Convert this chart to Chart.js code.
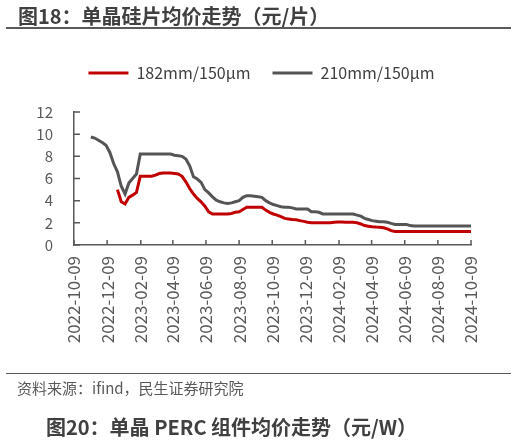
<!DOCTYPE html>
<html>
<head>
<meta charset="utf-8">
<script src="https://cdn.jsdelivr.net/npm/chart.js@4.4.1/dist/chart.umd.min.js"></script>
<style>
  html, body { margin: 0; padding: 0; background: #fff; }
  body { width: 516px; height: 441px; position: relative; overflow: hidden; font-family: "Noto Sans CJK SC", sans-serif; }
  #priceChart { position: absolute; left: 0; top: 0; }
  .title { position: absolute; font-weight: bold; font-size: 20px; line-height: 20px; color: #404040; white-space: nowrap; }
  .rule { position: absolute; left: 6px; width: 505px; background: #595959; }
  .source { position: absolute; left: 17px; top: 380px; font-size: 15px; line-height: 16px; color: #595959; white-space: nowrap; }
</style>
</head>
<body>
<canvas id="priceChart" width="516" height="441"></canvas>
<div class="title" style="left:18px; top:6px;">图18：单晶硅片均价走势（元/片）</div>
<div class="rule" style="top:27px; height:2px;"></div>
<div class="rule" style="top:372.5px; height:1.5px;"></div>
<div class="source">资料来源：ifind，民生证券研究院</div>
<div class="title" style="left:46px; top:417px;">图20：单晶 PERC 组件均价走势（元/W）</div>
<script>
// weekly quotes
const dates = [
  '2022-11-09','2022-11-16','2022-11-23','2022-11-30','2022-12-07','2022-12-14','2022-12-21','2022-12-28',
  '2023-01-04','2023-01-11','2023-01-18','2023-01-25','2023-02-01','2023-02-08','2023-02-15','2023-02-22',
  '2023-03-01','2023-03-08','2023-03-15','2023-03-22','2023-03-29','2023-04-05','2023-04-12','2023-04-19',
  '2023-04-26','2023-05-03','2023-05-10','2023-05-17','2023-05-24','2023-05-31','2023-06-07','2023-06-14',
  '2023-06-21','2023-06-28','2023-07-05','2023-07-12','2023-07-19','2023-07-26','2023-08-02','2023-08-09',
  '2023-08-16','2023-08-23','2023-08-30','2023-09-06','2023-09-13','2023-09-20','2023-09-27','2023-10-04',
  '2023-10-11','2023-10-18','2023-10-25','2023-11-01','2023-11-08','2023-11-15','2023-11-22','2023-11-29',
  '2023-12-06','2023-12-13','2023-12-20','2023-12-27','2024-01-03','2024-01-10','2024-01-17','2024-01-24',
  '2024-01-31','2024-02-07','2024-02-14','2024-02-21','2024-02-28','2024-03-06','2024-03-13','2024-03-20',
  '2024-03-27','2024-04-03','2024-04-10','2024-04-17','2024-04-24','2024-05-01','2024-05-08','2024-05-15',
  '2024-05-22','2024-05-29','2024-06-05','2024-06-12','2024-06-19','2024-06-26','2024-07-03','2024-07-10',
  '2024-07-17','2024-07-24','2024-07-31','2024-08-07','2024-08-14','2024-08-21','2024-08-28','2024-09-04',
  '2024-09-11','2024-09-18','2024-09-25','2024-10-02','2024-10-09'
];

const price182 = [
  null, null, null, null, null, null, null, 5.0,
  3.9, 3.7, 4.3, 4.5, 4.75, 6.2, 6.2, 6.2,
  6.2, 6.3, 6.45, 6.5, 6.5, 6.5, 6.45, 6.4,
  6.2, 5.7, 5.1, 4.6, 4.2, 3.9, 3.5, 3.0,
  2.8, 2.8, 2.8, 2.8, 2.8, 2.85, 2.95, 3.0,
  3.2, 3.4, 3.4, 3.4, 3.4, 3.4, 3.15, 2.95,
  2.8, 2.7, 2.55, 2.4, 2.35, 2.3, 2.28, 2.2,
  2.13, 2.05, 2.0, 2.0, 2.0, 2.0, 2.0, 2.0,
  2.05, 2.07, 2.07, 2.05, 2.05, 2.05, 2.0, 1.9,
  1.75, 1.7, 1.65, 1.62, 1.6, 1.55, 1.45, 1.3,
  1.22, 1.22, 1.22, 1.22, 1.22, 1.22, 1.22, 1.22,
  1.22, 1.22, 1.22, 1.22, 1.22, 1.22, 1.22, 1.22,
  1.22, 1.22, 1.22, 1.22, 1.22
];

const price210 = [
  9.75, 9.65, 9.45, 9.25, 9.0, 8.35, 7.35, 6.6,
  5.3, 4.6, 5.6, 6.0, 6.4, 8.2, 8.2, 8.2,
  8.2, 8.2, 8.2, 8.2, 8.2, 8.2, 8.1, 8.05,
  8.0, 7.75, 7.15, 6.15, 5.95, 5.65, 5.0, 4.7,
  4.35, 4.05, 3.9, 3.8, 3.75, 3.8, 3.9, 4.0,
  4.3, 4.45, 4.45, 4.4, 4.35, 4.3, 4.0, 3.8,
  3.65, 3.55, 3.45, 3.4, 3.4, 3.35, 3.25, 3.25,
  3.25, 3.25, 3.0, 3.0, 2.95, 2.8, 2.8, 2.8,
  2.8, 2.8, 2.8, 2.8, 2.8, 2.8, 2.7, 2.6,
  2.4, 2.3, 2.2, 2.15, 2.1, 2.1, 2.05, 1.95,
  1.86, 1.86, 1.86, 1.86, 1.75, 1.71, 1.71, 1.71,
  1.71, 1.71, 1.71, 1.71, 1.71, 1.71, 1.71, 1.71,
  1.71, 1.71, 1.71, 1.71, 1.71
];

const tickDates = [
  '2022-10-09','2022-12-09','2023-02-09','2023-04-09','2023-06-09','2023-08-09','2023-10-09',
  '2023-12-09','2024-02-09','2024-04-09','2024-06-09','2024-08-09','2024-10-09'
];
const yTicks = [0, 2, 4, 6, 8, 10, 12];

const axisColor = '#595959';
const textColor = '#595959';
const fontFamily = '"Noto Sans CJK SC", sans-serif';

// days since the first axis date, so the x scale stays a plain linear one
const origin = Date.parse(tickDates[0] + 'T00:00:00Z');
const dayOf = d => (Date.parse(d + 'T00:00:00Z') - origin) / 86400000;
const toPoints = vals => vals
  .map((v, i) => ({ x: dayOf(dates[i]), y: v }))
  .filter(p => p.y !== null);

// ticks point into the plot, like the Excel original
const innerTicks = {
  id: 'innerTicks',
  beforeDatasetsDraw(chart) {
    const { ctx, scales: { x, y } } = chart;
    ctx.save();
    ctx.strokeStyle = axisColor;
    ctx.lineWidth = 1.5;
    ctx.beginPath();
    x.ticks.forEach((t, i) => {
      const px = x.getPixelForTick(i);
      ctx.moveTo(px, x.top);
      ctx.lineTo(px, x.top - 5);
    });
    y.ticks.forEach((t, i) => {
      const py = y.getPixelForTick(i);
      ctx.moveTo(y.right, py);
      ctx.lineTo(y.right + 6, py);
    });
    ctx.stroke();
    ctx.restore();
  }
};

// extra room under the legend, and centre it over the plot + labels only
const legendGap = {
  id: 'legendGap',
  beforeInit(chart) {
    const fit = chart.legend.fit;
    chart.legend.fit = function () {
      fit.call(this);
      this.height += 21;
    };
  },
  afterLayout(chart) {
    chart.legend.left = 52;
  }
};

const ctx = document.getElementById('priceChart').getContext('2d');
new Chart(ctx, {
  type: 'line',
  data: {
    datasets: [
      {
        label: '182mm/150µm',
        data: toPoints(price182),
        borderColor: '#C00000',
        backgroundColor: '#C00000',
        borderWidth: 3,
        pointRadius: 0,
        pointStyle: 'line',
        tension: 0
      },
      {
        label: '210mm/150µm',
        data: toPoints(price210),
        borderColor: '#555555',
        backgroundColor: '#555555',
        borderWidth: 3,
        pointRadius: 0,
        pointStyle: 'line',
        tension: 0
      }
    ]
  },
  options: {
    responsive: false,
    animation: false,
    devicePixelRatio: 1,
    layout: { padding: { left: 0, right: 45, top: 43, bottom: 96 } },
    plugins: {
      legend: {
        position: 'top',
        labels: {
          usePointStyle: true,
          pointStyleWidth: 40,
          padding: 22,
          color: '#404040',
          font: { family: fontFamily, size: 16 }
        }
      },
      tooltip: { enabled: false }
    },
    scales: {
      x: {
        type: 'linear',
        min: dayOf(tickDates[0]),
        max: dayOf(tickDates[tickDates.length - 1]),
        afterBuildTicks: scale => {
          scale.ticks = tickDates.map(d => ({ value: dayOf(d) }));
        },
        afterFit: scale => { scale.height = 100; },
        grid: { display: false, drawTicks: false },
        border: { color: axisColor, width: 1.5 },
        ticks: {
          autoSkip: false,
          minRotation: 90,
          maxRotation: 90,
          padding: 11,
          color: textColor,
          font: { family: fontFamily, size: 17 },
          callback: (v, i) => tickDates[i]
        }
      },
      y: {
        min: 0,
        max: 12,
        afterBuildTicks: scale => {
          scale.ticks = yTicks.map(v => ({ value: v }));
        },
        afterFit: scale => { scale.width = 74; },
        grid: { display: false, drawTicks: false },
        border: { color: axisColor, width: 1.5 },
        ticks: {
          autoSkip: false,
          padding: 21,
          color: textColor,
          font: { family: fontFamily, size: 15 }
        }
      }
    }
  },
  plugins: [innerTicks, legendGap]
});
</script>
</body>
</html>
